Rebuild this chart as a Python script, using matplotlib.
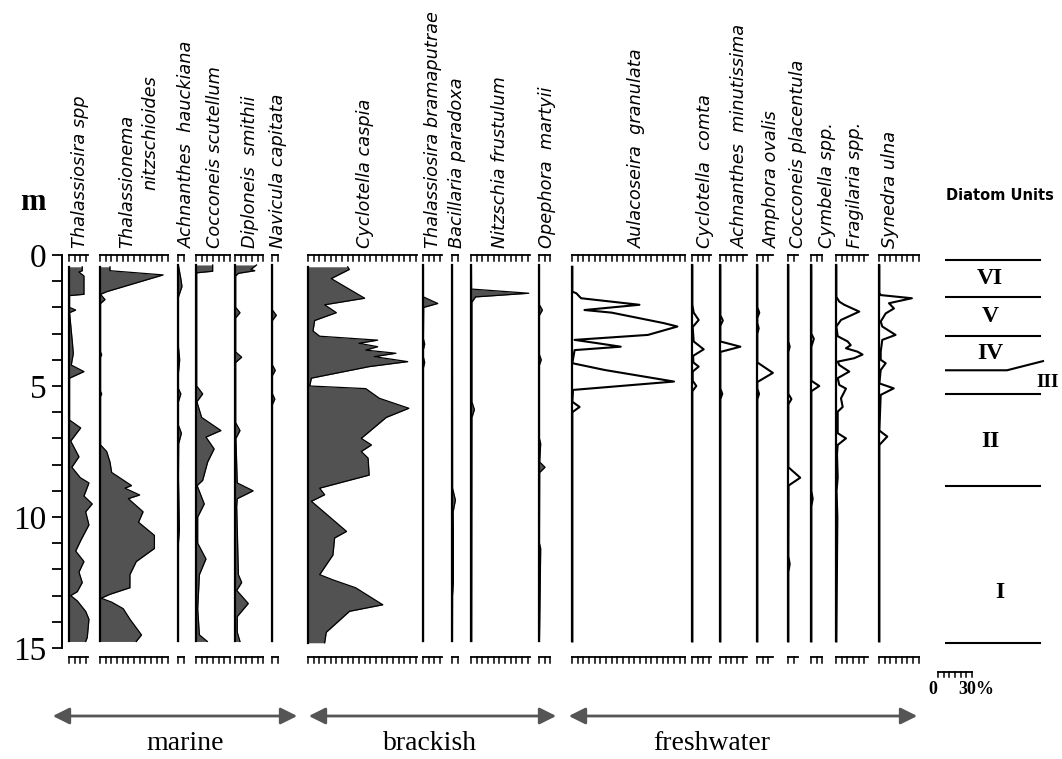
import matplotlib
matplotlib.use("Agg")
import matplotlib.pyplot as plt
import numpy as np

# ---------------- data (depth in m, abundance in %) ----------------
thal_spp_d = [0.45, 0.6, 0.65, 0.8, 1.5, 1.55, 2.0, 2.1, 2.2, 3.3, 3.75, 4.2, 4.45, 4.7, 4.9, 6.3, 6.6, 7.1, 7.7, 8.1, 8.5, 8.7, 9.2, 9.5, 9.8, 10.3, 10.9, 11.3, 11.7, 12.1, 12.5, 12.85, 13.0, 13.2, 13.6, 13.9, 14.6, 14.75]
thal_spp_v = [11.7, 11.7, 8.8, 13.2, 13.2, 0.5, 0.5, 5.9, 0.5, 2.9, 3.8, 2.0, 13.2, 0.5, 0.5, 0.5, 10.3, 1.5, 8.8, 2.5, 10.0, 17.6, 13.2, 20.5, 14.7, 17.6, 10.3, 5.9, 13.2, 8.8, 11.7, 7.3, 1.5, 7.3, 14.7, 17.6, 16.1, 14.7]

thal_nitz_d = [0.45, 0.6, 0.76, 1.4, 1.5, 1.7, 1.85, 3.7, 3.8, 3.9, 5.2, 5.3, 5.4, 7.25, 7.5, 7.9, 8.3, 8.8, 8.9, 9.16, 9.3, 9.8, 10.2, 10.7, 11.2, 11.7, 12.2, 12.7, 12.95, 13.1, 13.25, 13.5, 13.9, 14.5, 14.75]
thal_nitz_v = [8.8, 8.8, 55.7, 5.9, 0.5, 4.4, 0.5, 0.5, 1.5, 0.5, 0.5, 1.5, 0.5, 0.5, 5.9, 8.8, 10.3, 27.8, 22.0, 35.0, 25.0, 38.0, 34.0, 48.0, 48.0, 32.0, 26.4, 26.4, 8.8, 1.0, 10.3, 20.5, 26.4, 36.6, 32.0]

ach_hauck_d = [0.4, 0.9, 1.2, 1.6, 3.5, 4.0, 4.5, 5.1, 5.3, 5.6, 6.5, 6.8, 7.2, 8.5, 10.5, 11.0, 14.75]
ach_hauck_v = [0.4, 2.5, 3.5, 0.4, 0.4, 1.5, 0.4, 0.4, 2.5, 0.4, 0.4, 3.0, 0.6, 0.4, 1.2, 0.4, 0.4]

coc_scut_d = [0.38, 0.62, 0.68, 5.0, 5.3, 5.6, 6.2, 6.7, 6.95, 7.4, 7.9, 8.6, 8.8, 9.5, 10.0, 11.0, 11.6, 12.2, 13.5, 14.5, 14.75]
coc_scut_v = [14.7, 14.7, 0.6, 0.6, 5.9, 0.8, 5.0, 22.0, 8.8, 16.0, 10.3, 5.9, 1.0, 7.3, 1.5, 1.5, 8.8, 3.0, 1.5, 3.0, 10.0]

dipl_d = [0.38, 0.55, 0.6, 0.7, 0.8, 2.0, 2.2, 2.4, 3.7, 3.9, 4.1, 6.4, 6.7, 7.0, 8.7, 9.0, 9.3, 9.6, 12.2, 12.5, 12.8, 13.3, 13.8, 14.4, 14.75]
dipl_v = [19.0, 14.0, 17.5, 3.0, 0.6, 0.6, 4.4, 0.6, 0.6, 5.9, 0.6, 0.6, 4.4, 0.8, 2.0, 16.0, 2.0, 1.5, 3.0, 5.9, 1.5, 11.7, 2.0, 2.0, 4.4]

nav_cap_d = [0.4, 2.1, 2.3, 2.5, 4.2, 4.4, 4.6, 5.3, 5.5, 5.7, 14.75]
nav_cap_v = [0.4, 0.4, 3.8, 0.4, 0.4, 2.9, 0.4, 0.4, 2.5, 0.4, 0.4]

cyc_casp_d = [0.45, 0.55, 0.9, 1.65, 1.9, 2.2, 2.5, 2.9, 3.1, 3.25, 3.37, 3.5, 3.63, 3.75, 3.88, 4.07, 4.26, 4.7, 5.0, 5.1, 5.47, 5.85, 6.2, 7.0, 7.25, 7.5, 7.75, 8.4, 8.9, 9.15, 9.4, 9.67, 10.55, 10.8, 11.45, 12.2, 12.4, 12.7, 13.35, 13.6, 14.4, 14.8]
cyc_casp_v = [35.0, 36.5, 20.5, 50.0, 14.7, 25.0, 5.9, 4.4, 10.3, 61.5, 45.0, 61.5, 51.0, 77.6, 58.5, 88.0, 54.0, 3.0, 1.5, 51.0, 63.0, 89.0, 69.0, 47.0, 56.0, 47.0, 53.0, 54.0, 10.3, 14.7, 3.0, 10.3, 34.0, 23.5, 22.0, 10.3, 22.0, 42.0, 66.0, 36.6, 16.1, 14.7]

thal_bram_d = [0.4, 1.6, 1.85, 2.0, 3.2, 3.4, 3.6, 3.9, 4.1, 4.3, 14.75]
thal_bram_v = [0.4, 0.4, 13.0, 0.6, 0.4, 1.5, 0.4, 0.4, 1.5, 0.4, 0.4]

bacill_d = [0.4, 8.9, 9.35, 9.8, 10.5, 12.5, 13.0, 14.75]
bacill_v = [0.4, 0.5, 3.0, 1.0, 1.2, 1.2, 0.5, 0.4]

nitz_frus_d = [0.4, 1.3, 1.46, 1.6, 1.8, 5.6, 5.9, 6.2, 14.75]
nitz_frus_v = [0.4, 0.5, 51.0, 4.0, 0.8, 0.8, 3.0, 0.8, 0.6]

opeph_d = [0.4, 1.9, 2.1, 2.3, 3.8, 4.0, 4.2, 7.0, 7.2, 7.9, 8.1, 8.3, 11.0, 11.2, 14.75]
opeph_v = [0.4, 0.4, 3.0, 0.4, 0.4, 2.0, 0.4, 0.4, 1.5, 0.6, 5.3, 0.6, 0.4, 1.5, 0.4]

aul_gran_d = [0.45, 1.4, 1.46, 1.65, 1.9, 2.1, 2.2, 2.6, 2.73, 3.05, 3.24, 3.37, 3.5, 3.63, 4.13, 4.39, 4.83, 5.15, 5.6, 5.8, 6.0, 14.75]
aul_gran_v = [0.3, 0.3, 3.8, 8.0, 59.5, 11.0, 35.0, 81.0, 93.0, 67.0, 2.3, 23.0, 43.0, 2.3, 0.3, 29.0, 90.0, 0.9, 0.3, 6.7, 0.3, 0.3]

cyc_comta_d = [0.4, 1.9, 2.2, 2.48, 2.75, 3.3, 3.6, 3.85, 4.1, 4.26, 4.45, 4.8, 5.0, 5.2, 14.75]
cyc_comta_v = [0.3, 0.3, 1.5, 5.9, 0.6, 1.5, 10.3, 1.0, 1.2, 5.9, 0.6, 0.6, 3.8, 0.3, 0.3]

ach_min_d = [0.4, 2.3, 2.5, 2.7, 3.3, 3.5, 3.7, 5.1, 5.3, 5.5, 14.75]
ach_min_v = [0.3, 0.3, 2.5, 0.3, 0.3, 18.0, 0.3, 0.3, 2.0, 0.3, 0.3]

amph_d = [0.4, 2.0, 2.2, 2.4, 2.6, 2.8, 3.0, 4.1, 4.5, 4.85, 5.1, 5.3, 5.5, 14.75]
amph_v = [0.3, 0.3, 2.0, 0.3, 0.3, 1.5, 0.3, 0.3, 14.0, 0.3, 0.3, 1.8, 0.3, 0.3]

coc_plac_d = [0.4, 3.3, 3.5, 3.7, 5.3, 5.5, 5.7, 8.1, 8.5, 8.8, 9.1, 11.5, 11.8, 12.1, 14.75]
coc_plac_v = [0.3, 0.3, 1.5, 0.3, 0.3, 3.0, 0.3, 0.3, 10.8, 0.5, 0.5, 0.3, 1.5, 0.3, 0.3]

cymb_d = [0.4, 3.0, 3.2, 3.5, 4.8, 5.0, 5.2, 9.0, 9.3, 9.6, 14.75]
cymb_v = [0.3, 0.3, 2.5, 0.3, 0.3, 7.3, 0.3, 0.3, 1.5, 0.3, 0.3]

frag_d = [0.4, 1.6, 1.78, 1.9, 2.16, 2.48, 2.73, 3.1, 3.3, 3.44, 3.56, 3.69, 3.8, 3.94, 4.07, 4.2, 4.45, 4.7, 4.96, 5.1, 5.47, 5.8, 5.98, 6.8, 7.0, 7.25, 7.6, 8.5, 9.0, 10.0, 14.75]
frag_v = [0.3, 0.3, 2.9, 7.3, 20.5, 4.4, 0.3, 1.5, 10.3, 13.0, 8.8, 19.0, 23.4, 16.0, 1.5, 2.9, 11.7, 1.5, 2.9, 8.8, 4.4, 5.9, 1.5, 1.5, 8.8, 1.5, 0.9, 1.5, 0.5, 1.2, 0.3]

syn_ulna_d = [0.4, 1.45, 1.53, 1.65, 1.84, 2.04, 2.23, 2.54, 2.73, 3.05, 3.24, 3.69, 4.0, 4.13, 4.39, 4.9, 5.09, 5.34, 6.7, 6.93, 7.25, 14.75]
syn_ulna_v = [0.3, 0.3, 1.5, 29.0, 8.8, 13.2, 5.9, 1.5, 2.9, 14.6, 2.9, 1.5, 1.5, 5.9, 1.5, 0.3, 13.0, 1.5, 0.3, 7.3, 0.3, 0.3]

taxa = ["Thalassiosira spp", "Thalassionema\nnitzschioides", "Achnanthes  hauckiana",
        "Cocconeis scutellum", "Diploneis  smithii", "Navicula capitata",
        "Cyclotella caspia", "Thalassiosira bramaputrae", "Bacillaria paradoxa",
        "Nitzschia frustulum", "Opephora  martyii",
        "Aulacoseira  granulata", "Cyclotella  comta", "Achnanthes  minutissima",
        "Amphora ovalis", "Cocconeis placentula", "Cymbella spp.", "Fragilaria spp.",
        "Synedra ulna"]
groups = ["marine"] * 6 + ["brackish"] * 5 + ["freshwater"] * 8
depths = [thal_spp_d, thal_nitz_d, ach_hauck_d, coc_scut_d, dipl_d, nav_cap_d,
          cyc_casp_d, thal_bram_d, bacill_d, nitz_frus_d, opeph_d,
          aul_gran_d, cyc_comta_d, ach_min_d, amph_d, coc_plac_d, cymb_d, frag_d, syn_ulna_d]
values = [thal_spp_v, thal_nitz_v, ach_hauck_v, coc_scut_v, dipl_v, nav_cap_v,
          cyc_casp_v, thal_bram_v, bacill_v, nitz_frus_v, opeph_v,
          aul_gran_v, cyc_comta_v, ach_min_v, amph_v, coc_plac_v, cymb_v, frag_v, syn_ulna_v]
scale_max = [17, 60, 5, 30, 25, 5, 96, 17, 5, 52, 10, 100, 17, 24, 14, 9, 10, 28, 35]

unit_bounds = [0.2, 1.6, 3.1, 4.4, 5.3, 8.8, 14.8]
unit_names = ["VI", "V", "IV", "III", "II", "I"]
depth_ticks = list(range(0, 16))
depth_labels = [0, 5, 10, 15]

# ---------------- layout ----------------
W, H = 1062, 759
fig = plt.figure(figsize=(W / 100, H / 100), dpi=100)
PX_PER_PCT = 34 / 30
Y0_PX = 255          # depth 0
PX_PER_M = 26.2
YMIN, YMAX = -0.5, 15.7

panel_left = [69, 100, 178, 196, 235, 272, 308, 423, 452, 471, 539,
              572, 692, 720, 757, 788, 811, 836, 879]
label_x = [80, 127, 187, 215, 250, 278, 365, 433, 457, 500, 547,
           637, 705, 740, 772, 798, 827, 855, 890]

def rect(left_px, width_px):
    top = Y0_PX + YMIN * PX_PER_M
    bot = Y0_PX + YMAX * PX_PER_M
    return [left_px / W, 1 - bot / H, width_px / W, (bot - top) / H]

TOPBAR, BOTBAR = 0.0, 15.35
FILL = "#525252"
serif = "Liberation Serif"
LABEL_FS = 12.8

for i, name in enumerate(taxa):
    xm = scale_max[i]
    ax = fig.add_axes(rect(panel_left[i], xm * PX_PER_PCT))
    ax.set_xlim(0, xm)
    ax.set_ylim(YMAX, YMIN)
    ax.axis("off")
    d = np.array(depths[i]); v = np.array(values[i])
    # scalloped scale bars
    for yb in (TOPBAR, BOTBAR):
        ax.plot([0, xm], [yb, yb], color="k", lw=1.3, clip_on=False)
        for t in np.arange(0, xm + 0.01, 5):
            ax.plot([t, t], [yb, yb + 0.22], color="k", lw=1.1, clip_on=False)
    if groups[i] == "freshwater":
        ax.plot(v, d, color="k", lw=1.5, clip_on=False)
    else:
        ax.fill_betweenx(d, 0, v, color=FILL, lw=0, clip_on=False)
        ax.plot(v, d, color="k", lw=0.9, clip_on=False)
    ax.plot([0, 0], [d[0], d[-1]], color="k", lw=1.6, clip_on=False)

# taxon labels
for i, name in enumerate(taxa):
    if "\n" in name:
        a, b = name.split("\n")
        fig.text(label_x[i] / W, 1 - 248 / H, a, rotation=90, ha="center", va="bottom",
                 style="italic", fontsize=LABEL_FS, family="DejaVu Sans")
        fig.text((label_x[i] + 23) / W, 1 - 190 / H, b, rotation=90, ha="center", va="bottom",
                 style="italic", fontsize=LABEL_FS, family="DejaVu Sans")
    else:
        fig.text(label_x[i] / W, 1 - 248 / H, name, rotation=90, ha="center", va="bottom",
                 style="italic", fontsize=LABEL_FS, family="DejaVu Sans")

# depth axis
axd = fig.add_axes(rect(62, 4))
axd.set_ylim(YMAX, YMIN)
for s in ("top", "right", "bottom"):
    axd.spines[s].set_visible(False)
axd.spines["left"].set_bounds(0, 15)
axd.spines["left"].set_linewidth(1.4)
axd.set_xticks([])
axd.set_yticks(depth_ticks)
axd.set_yticklabels([str(t) if t in depth_labels else "" for t in depth_ticks],
                    fontsize=24, family=serif)
axd.tick_params(axis="y", direction="out", length=7, width=1.3, pad=4)
axd.patch.set_visible(False)
fig.text(20 / W, 1 - 203 / H, "m", fontsize=22, family=serif, fontweight="bold",
         ha="left", va="center")

# diatom units column
axu = fig.add_axes(rect(945, 100))
axu.set_xlim(0, 1)
axu.set_ylim(YMAX, YMIN)
axu.axis("off")
for j, b in enumerate(unit_bounds):
    if j == 3:
        axu.plot([0, 0.62, 0.98], [b, b, b - 0.35], color="k", lw=1.5)
    else:
        axu.plot([0, 0.95], [b, b], color="k", lw=1.5)
unit_y = [0.9, 2.35, 3.75, 4.85, 7.1, 12.9]
unit_x = [0.45, 0.45, 0.45, 1.03, 0.45, 0.55]
unit_fs = [17, 17, 17, 14, 17, 17]
for nm, yy, xx, fs in zip(unit_names, unit_y, unit_x, unit_fs):
    axu.text(xx, yy, nm, ha="center", va="center", fontsize=fs, family=serif,
             fontweight="bold", clip_on=False)
fig.text(1000 / W, 1 - 195 / H, "Diatom Units", ha="center", va="center",
         fontsize=10.5, fontweight="bold", family="DejaVu Sans")

# 0-30% scale
axs = fig.add_axes([938 / W, 1 - 690 / H, 30 * PX_PER_PCT / W, 20 / H])
axs.set_xlim(0, 30); axs.set_ylim(1, 0); axs.axis("off")
axs.plot([0, 30], [0.1, 0.1], color="k", lw=1.3, clip_on=False)
for t in range(0, 31, 5):
    axs.plot([t, t], [0.1, 0.35], color="k", lw=1.1, clip_on=False)
fig.text(933 / W, 1 - 689 / H, "0", fontsize=13, family=serif, fontweight="bold",
         ha="center", va="center")
fig.text(958 / W, 1 - 689 / H, "30%", fontsize=13, family=serif, fontweight="bold",
         ha="left", va="center")

# group arrows
for g, (x0, x1, lx) in {"marine": (50, 300, 185), "brackish": (306, 559, 430),
                         "freshwater": (566, 920, 712)}.items():
    fig.patches.append(matplotlib.patches.FancyArrowPatch(
        (x0 / W, 1 - 716 / H), (x1 / W, 1 - 716 / H), transform=fig.transFigure,
        arrowstyle="<|-|>,head_length=10,head_width=5", color="#555555", lw=2))
    fig.text(lx / W, 1 - 744 / H, g, ha="center", va="center", fontsize=20, family=serif)

fig.savefig("out.png", dpi=100)
